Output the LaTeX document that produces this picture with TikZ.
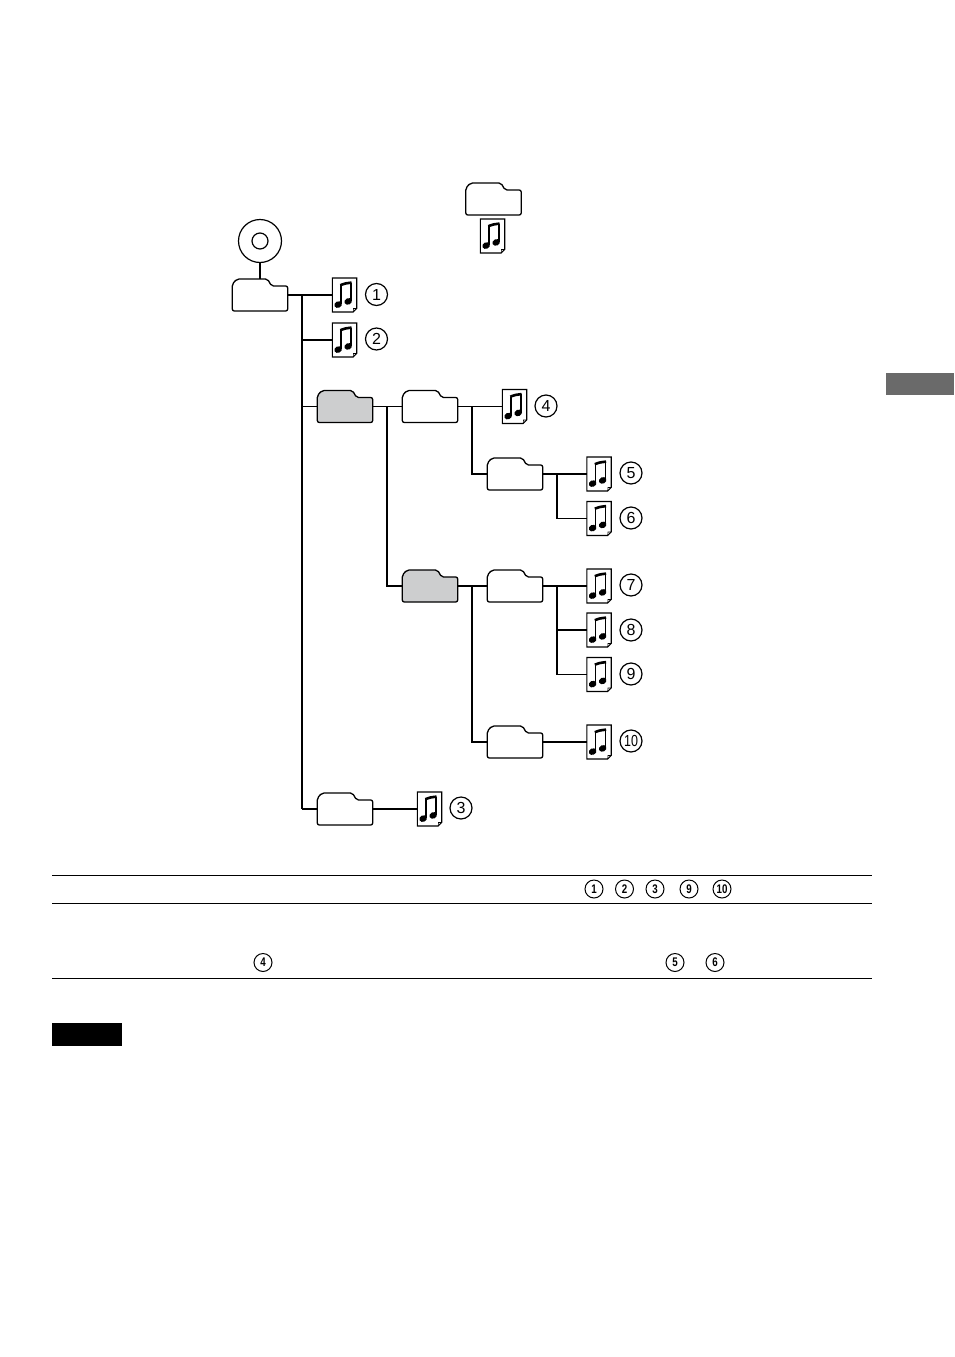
\documentclass[tikz,border=0pt]{standalone}
\usepackage{fontspec}
\setmainfont{Liberation Sans}
\usepackage{xcolor}
\usetikzlibrary{positioning}
\usetikzlibrary{calc}
\definecolor{foldergray}{HTML}{CDCECF}
\definecolor{tabgray}{HTML}{6A6A6A}
\newcommand{\narrownum}[1]{\scalebox{.78}[1]{#1}}
\tikzset{
    folder/.style={
        minimum width=55.5pt, minimum height=32pt, inner sep=0pt, outer sep=0pt,
        append after command={\pgfextra{
            \draw[fill=#1, line width=1.3pt, rounded corners=2pt, shift={(\tikzlastnode.center)}]
                (-27.7,16) -- (-27.7,-11) -- (-23,-16) -- (7.5,-16) -- (11.5,-9) -- (27.7,-9) -- (27.7,16) -- cycle;
        }}},
    folder/.default=white,
    musicfile/.style={
        minimum width=24.5pt, minimum height=34pt, inner sep=0pt, outer sep=0pt,
        append after command={\pgfextra{
            \begin{scope}[shift={(\tikzlastnode.center)}]
                \draw[fill=white, line width=1.1pt] (-12.2,-17) -- (12.2,-17) -- (12.2,13.5) -- (8.7,17) -- (-12.2,17) -- cycle;
                \draw[line width=.6pt] (12.2,13.5) -- (9,13.5) -- (8.7,17);
                \draw[line width=1.5pt] (-3.6,9) -- (-3.6,-10);
                \draw[line width=1.5pt] (6.4,6) -- (6.4,-12.5);
                \draw[line width=2.6pt] (-4.2,-9.8) .. controls (0,-11.5) .. (7.1,-12.4);
                \fill[rotate around={25:(-6.4,9.6)}] (-6.4,9.6) ellipse (3.9 and 3.2);
                \fill[rotate around={25:(3.7,6.4)}] (3.7,6.4) ellipse (3.9 and 3.2);
            \end{scope}
        }}},
    numlabel/.style={circle, draw, line width=1.2pt, minimum size=22pt, inner sep=0pt, font=\fontsize{16}{16}\selectfont},
    tablenum/.style={circle, draw, line width=1pt, minimum size=18pt, inner sep=0pt, font=\bfseries\fontsize{12.5}{12.5}\selectfont},
}

\begin{document}
\begin{tikzpicture}[x=1pt, y=-1pt, line width=1.5pt]
        \useasboundingbox (0,0) rectangle (954,1357);
        % disc and legend
        \node[circle, draw, line width=1.2pt, minimum size=43pt, inner sep=0pt] (disc) at (260,241) {};
        \node[circle, draw, line width=1.2pt, minimum size=16pt, inner sep=0pt] (hole) at (260,241) {};
        \node[folder] (legendfolder) at (493.5,199) {};
        \node[musicfile] (legendfile) at (492.5,236) {};
        % folders
        \node[folder] (root) at (260,295) {};
        \node[folder=foldergray] (album) at (345,406.5) {};
        \node[folder] (sub) at (430,406.5) {};
        \node[folder] (subfive) at (515,474) {};
        \node[folder=foldergray] (albumtwo) at (430,586) {};
        \node[folder] (subseven) at (515,586) {};
        \node[folder] (subten) at (515,742) {};
        \node[folder] (last) at (345,809) {};
        % files
        \node[musicfile] (fa) at (344.5,295) {};
        \node[musicfile] (fb) at (344.5,340) {};
        \node[musicfile] (fc) at (429.5,809) {};
        \node[musicfile] (fd) at (514.5,406.5) {};
        \node[musicfile] (fe) at (599,474) {};
        \node[musicfile] (ff) at (599,518.5) {};
        \node[musicfile] (fg) at (599,586) {};
        \node[musicfile] (fh) at (599,630) {};
        \node[musicfile] (fi) at (599,674.5) {};
        \node[musicfile] (fj) at (599,742) {};
        % numbers beside the files
        \node[numlabel] (na) at (376.5,294.5) {1};
        \node[numlabel] (nb) at (376.5,339) {2};
        \node[numlabel] (nc) at (461,808) {3};
        \node[numlabel] (nd) at (546,406) {4};
        \node[numlabel] (ne) at (631,473) {5};
        \node[numlabel] (nf) at (631,518) {6};
        \node[numlabel] (ng) at (631,585) {7};
        \node[numlabel] (nh) at (631,630) {8};
        \node[numlabel] (ni) at (631,674) {9};
        \node[numlabel] (nj) at (631,741) {\narrownum{10}};
        % branch points
        \coordinate (trunk) at (302,295);
        \coordinate (branchalbum) at (387,406.5);
        \coordinate (branchsub) at (472,406.5);
        \coordinate (branchfive) at (557,474);
        \coordinate (branchtwo) at (472,586);
        \coordinate (branchseven) at (557,586);
        % connectors
        \draw (disc) -- (root.north);
        \draw (root.east) -- (fa.west);
        \draw[line width=2.2pt] (trunk) -- (trunk |- last.west);
        \draw (trunk) |- (fb.west);
        \draw (trunk |- album.west) -- (album.west);
        \draw (trunk |- last.west) -- (last.west);
        \draw (last.east) -- (fc.west);
        \draw (album.east) -- (sub.west);
        \draw (sub.east) -- (fd.west);
        \draw (branchalbum) |- (albumtwo.west);
        \draw (branchsub) |- (subfive.west);
        \draw (subfive.east) -- (fe.west);
        \draw (branchfive) |- (ff.west);
        \draw (albumtwo.east) -- (subseven.west);
        \draw (subseven.east) -- (fg.west);
        \draw (branchseven) |- (fi.west);
        \draw[line width=2.2pt] (branchseven |- fh.west) -- (fh.west);
        \draw (branchtwo) |- (subten.west);
        \draw (subten.east) -- (fj.west);
        % table
        \coordinate (rulea) at (52,875.5);
        \coordinate (ruleb) at (52,903.5);
        \coordinate (rulec) at (52,978.5);
        \draw[line width=1pt] (rulea) -- +(820,0);
        \draw[line width=1pt] (ruleb) -- +(820,0);
        \draw[line width=1pt] (rulec) -- +(820,0);
        \node[tablenum] (ta) at (594,889) {\narrownum{1}};
        \node[tablenum] (tb) at (624.5,889) {\narrownum{2}};
        \node[tablenum] (tc) at (655,889) {\narrownum{3}};
        \node[tablenum] (ti) at (689,889) {\narrownum{9}};
        \node[tablenum] (tj) at (722,889) {\narrownum{10}};
        \node[tablenum] (td) at (263,962.5) {\narrownum{4}};
        \node[tablenum] (te) at (675,962.5) {\narrownum{5}};
        \node[tablenum] (tf) at (715,962.5) {\narrownum{6}};
        % solid blocks
        \node[fill=black, minimum width=70pt, minimum height=23pt, inner sep=0pt, outer sep=0pt] (notebox) at (87,1034.5) {};
        \node[fill=tabgray, minimum width=68pt, minimum height=22pt, inner sep=0pt, outer sep=0pt] (edgetab) at (920,384) {};
    \end{tikzpicture}
\end{document}
